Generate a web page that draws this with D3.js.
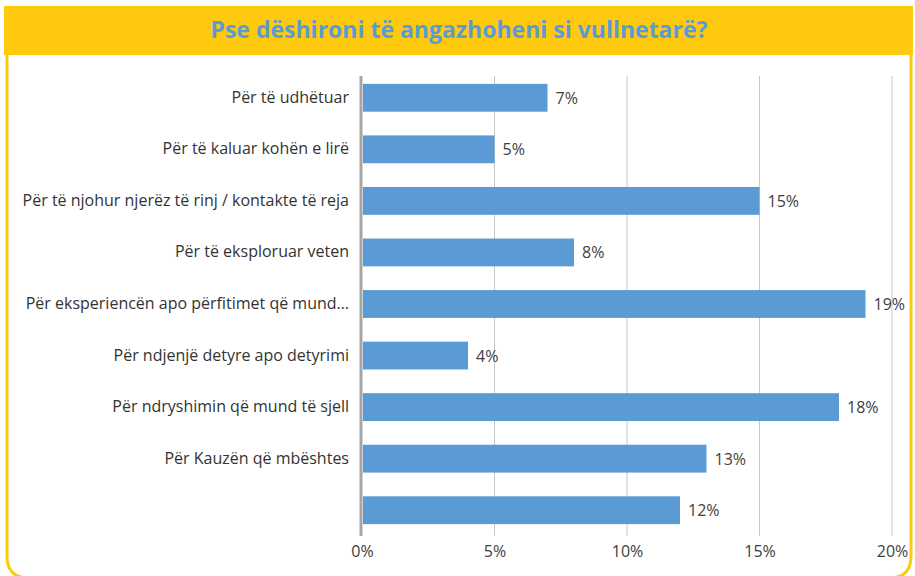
<!DOCTYPE html>
<html>
<head>
<meta charset="utf-8">
<script src="https://cdn.jsdelivr.net/npm/d3@7"></script>
<style>
  body { margin: 0; background: #fff; }
  svg { display: block; font-family: "Open Sans", sans-serif; }
</style>
</head>
<body>
<div id="chart"></div>
<script>
const categories = [
  "Për të udhëtuar",
  "Për të kaluar kohën e lirë",
  "Për të njohur njerëz të rinj / kontakte të reja",
  "Për të eksploruar veten",
  "Për eksperiencën apo përfitimet që mund…",
  "Për ndjenjë detyre apo detyrimi",
  "Për ndryshimin që mund të sjell",
  "Për Kauzën që mbështes",
  ""
];
const values = [7, 5, 15, 8, 19, 4, 18, 13, 12];
const tickValues = [0, 5, 10, 15, 20];
const title = "Pse dëshironi të angazhoheni si vullnetarë?";

const width = 915;
const height = 576;
const margin = { top: 72, right: 23, bottom: 40, left: 362 };

const svg = d3.select("#chart")
  .append("svg")
  .attr("width", width)
  .attr("height", height);

// frame with rounded bottom corners
const r = 22;
svg.append("path")
  .attr("d", `M7,55 L7,${578 - r} Q7,578 ${7 + r},578 L${911 - r},578 Q911,578 911,${578 - r} L911,55`)
  .attr("fill", "none")
  .attr("stroke", "#ffc90e")
  .attr("stroke-width", 3);

svg.append("rect")
  .attr("x", 4)
  .attr("y", 6)
  .attr("width", 909)
  .attr("height", 49)
  .attr("fill", "#ffc90e");

svg.append("text")
  .attr("x", 459)
  .attr("y", 38)
  .attr("text-anchor", "middle")
  .attr("fill", "#5b9bd5")
  .attr("font-size", 23)
  .attr("font-weight", "bold")
  .text(title);

const x = d3.scaleLinear()
  .domain([0, 20])
  .range([margin.left, 892]);

const y = d3.scaleBand()
  .domain(d3.range(categories.length))
  .range([margin.top, height - margin.bottom])
  .paddingInner(0.46)
  .paddingOuter(0.23);

// gridlines
svg.append("g")
  .selectAll("line")
  .data(tickValues.slice(1))
  .enter()
  .append("line")
  .attr("x1", (d) => x(d))
  .attr("x2", (d) => x(d))
  .attr("y1", 76)
  .attr("y2", 536)
  .attr("stroke", "#c6c6c6")
  .attr("stroke-width", 1);

// bars
svg.append("g")
  .selectAll("rect")
  .data(values)
  .enter()
  .append("rect")
  .attr("x", x(0) + 1)
  .attr("y", (d, i) => y(i))
  .attr("width", (d) => x(d) - x(0) - 1)
  .attr("height", y.bandwidth())
  .attr("fill", "#5b9bd5");

// value labels
svg.append("g")
  .selectAll("text")
  .data(values)
  .enter()
  .append("text")
  .attr("x", (d) => x(d) + 8)
  .attr("y", (d, i) => y(i) + y.bandwidth() / 2 + 6)
  .attr("fill", "#404040")
  .attr("font-size", 16)
  .text((d) => d + "%");

// category labels
svg.append("g")
  .selectAll("text")
  .data(categories)
  .enter()
  .append("text")
  .attr("x", 349)
  .attr("y", (d, i) => y(i) + y.bandwidth() / 2 + 5)
  .attr("text-anchor", "end")
  .attr("fill", "#333")
  .attr("font-size", 16)
  .text((d) => d);

// y axis line
svg.append("line")
  .attr("x1", x(0) - 1)
  .attr("x2", x(0) - 1)
  .attr("y1", 76)
  .attr("y2", 536)
  .attr("stroke", "#a6a6a6")
  .attr("stroke-width", 3);

// x axis tick labels
const xAxis = d3.axisBottom(x)
  .tickValues(tickValues)
  .tickSize(0)
  .tickPadding(0)
  .tickFormat((d) => d + "%");

svg.append("g")
  .attr("transform", "translate(0,546)")
  .call(xAxis)
  .call((g) => g.select(".domain").remove())
  .selectAll("text")
  .attr("font-family", "'Open Sans', sans-serif")
  .attr("font-size", 16)
  .attr("fill", "#404040");
</script>
</body>
</html>
